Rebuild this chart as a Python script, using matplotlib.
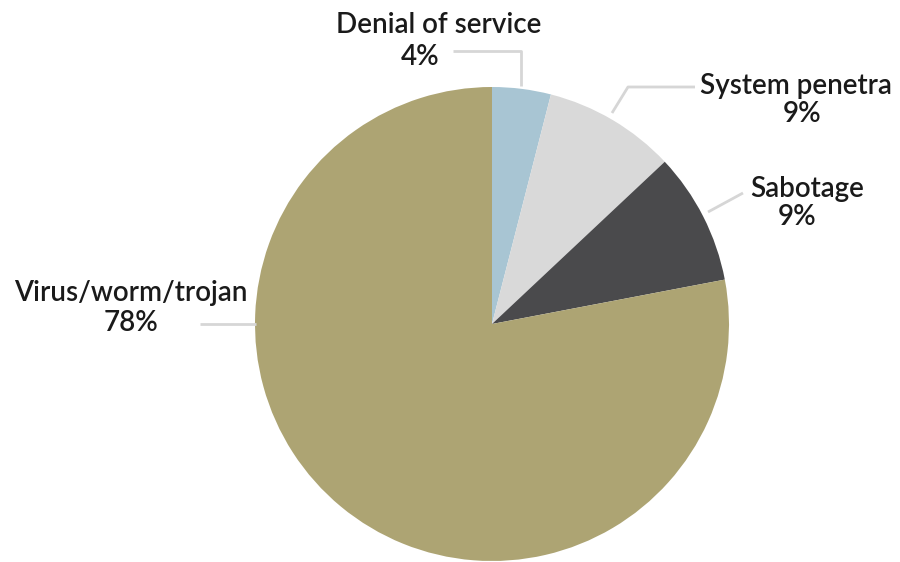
import matplotlib.pyplot as plt

# slice data, clockwise from 12 o'clock
categories = ["Denial of service", "System penetra", "Sabotage", "Virus/worm/trojan"]
shares = [4, 9, 9, 78]
colors = ["#a8c5d3", "#d9d9d9", "#4a4a4c", "#ada473"]

W, H = 900, 562
fig = plt.figure(figsize=(9, 5.62), dpi=100)
ax = fig.add_axes([0, 0, 1, 1])

cx, cy, r = 492, H - 324, 237
ax.pie(shares, colors=colors, startangle=90, counterclock=False,
       center=(cx, cy), radius=r, frame=True,
       wedgeprops=dict(linewidth=0))
ax.set_xlim(0, W)
ax.set_ylim(0, H)
ax.set_aspect("equal")
ax.axis("off")

line_kw = dict(color="#d6d6d6", lw=2, solid_capstyle="butt")
font = dict(family=["Lato", "DejaVu Sans"], fontsize=20, fontweight="semibold",
            color="#1a1a1a", ha="center", va="center")

def py(y):
    return H - y

# leader lines (pixel coords, y from top)
leaders = [
    [(521, 86), (521, 51), (453, 51)],
    [(612, 113), (628, 87), (695, 87)],
    [(708, 212), (743, 193)],
    [(256, 324), (200, 324)],
]
for pts in leaders:
    ax.plot([p[0] for p in pts], [py(p[1]) for p in pts], **line_kw)

# label positions: (name x, name y, pct x, pct y)
label_pos = [
    (439, 25, 420, 57),
    (796, 86, 802, 114),
    (807, 189, 797, 217),
    (131, 293, 131, 323),
]
for name, val, (nx, ny, vx, vy) in zip(categories, shares, label_pos):
    ax.text(nx, py(ny), name, **font)
    ax.text(vx, py(vy), f"{val}%", **font)

fig.savefig("out.png", dpi=100)
